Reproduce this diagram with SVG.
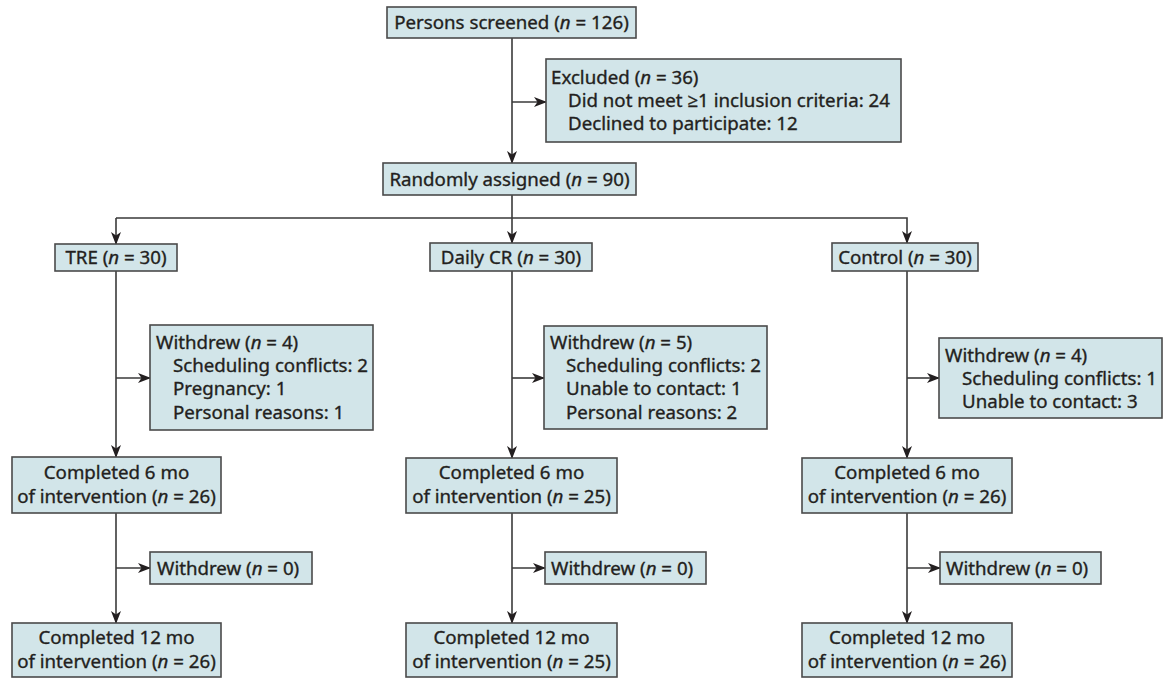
<svg xmlns="http://www.w3.org/2000/svg" width="1165" height="679" viewBox="0 0 1165 679">
<style>
.box{fill:#d2e5e9;stroke:#4a4a4a;stroke-width:1.6}
text{font-family:"Noto Sans","Open Sans","DejaVu Sans",sans-serif;font-size:18.7px;fill:#231f20;stroke:#231f20;stroke-width:0.35}
.c{text-anchor:middle}
.i{font-style:italic}
.ln{fill:none;stroke:#3a3a3a;stroke-width:1.6}
</style>
<defs>
<marker id="ah" markerWidth="13" markerHeight="13" viewBox="0 0 13 12" refX="12" refY="6" orient="auto" markerUnits="userSpaceOnUse">
<path d="M0,1 L13,6 L0,11 L3.5,6 z" fill="#231f20"/>
</marker>
</defs>
<g id="connectors" class="ln">
<path d="M512,38 V163" marker-end="url(#ah)"/>
<path d="M512,102 H546" marker-end="url(#ah)"/>
<path d="M512,195 V243" marker-end="url(#ah)"/>
<path d="M116,218 H907 V243" marker-end="url(#ah)"/>
<path d="M116,218 V244" marker-end="url(#ah)"/>
<path d="M116,271 V457" marker-end="url(#ah)"/>
<path d="M116,378 H150" marker-end="url(#ah)"/>
<path d="M512,271 V458" marker-end="url(#ah)"/>
<path d="M512,378 H544" marker-end="url(#ah)"/>
<path d="M907,271 V458" marker-end="url(#ah)"/>
<path d="M907,378 H939" marker-end="url(#ah)"/>
<path d="M116,513 V623" marker-end="url(#ah)"/>
<path d="M116,568 H150" marker-end="url(#ah)"/>
<path d="M512,513 V623" marker-end="url(#ah)"/>
<path d="M512,568 H545" marker-end="url(#ah)"/>
<path d="M907,513 V623" marker-end="url(#ah)"/>
<path d="M907,568 H940" marker-end="url(#ah)"/>
</g>
<g id="screened"><rect class="box" x="387" y="7" width="249" height="31"/>
<text class="c" x="511.5" y="29">Persons screened (<tspan class="i">n</tspan> = 126)</text></g>
<g id="excluded"><rect class="box" x="546" y="59" width="355" height="83"/>
<text x="551" y="84">Excluded (<tspan class="i">n</tspan> = 36)</text>
<text x="568" y="107">Did not meet ≥1 inclusion criteria: 24</text>
<text x="568" y="130">Declined to participate: 12</text></g>
<g id="randomly"><rect class="box" x="383" y="163" width="253" height="32"/>
<text class="c" x="509.5" y="186">Randomly assigned (<tspan class="i">n</tspan> = 90)</text></g>
<g id="tre"><rect class="box" x="55" y="244" width="122" height="27"/>
<text class="c" x="116" y="264">TRE (<tspan class="i">n</tspan> = 30)</text></g>
<g id="dailycr"><rect class="box" x="430" y="243" width="162" height="28"/>
<text class="c" x="511" y="264">Daily CR (<tspan class="i">n</tspan> = 30)</text></g>
<g id="control"><rect class="box" x="832" y="243" width="146" height="28"/>
<text class="c" x="905" y="264">Control (<tspan class="i">n</tspan> = 30)</text></g>
<g id="tre-withdrew"><rect class="box" x="150" y="325" width="223" height="105"/>
<text x="156" y="349">Withdrew (<tspan class="i">n</tspan> = 4)</text>
<text x="173" y="372">Scheduling conflicts: 2</text>
<text x="173" y="395">Pregnancy: 1</text>
<text x="173" y="419">Personal reasons: 1</text></g>
<g id="cr-withdrew"><rect class="box" x="544" y="326" width="223" height="103"/>
<text x="550" y="349">Withdrew (<tspan class="i">n</tspan> = 5)</text>
<text x="566" y="372">Scheduling conflicts: 2</text>
<text x="566" y="395">Unable to contact: 1</text>
<text x="566" y="419">Personal reasons: 2</text></g>
<g id="control-withdrew"><rect class="box" x="939" y="338" width="223" height="80"/>
<text x="945" y="362">Withdrew (<tspan class="i">n</tspan> = 4)</text>
<text x="962" y="385">Scheduling conflicts: 1</text>
<text x="962" y="408">Unable to contact: 3</text></g>
<g id="tre-6mo"><rect class="box" x="12" y="457" width="209" height="56"/>
<text class="c" x="116.5" y="479">Completed 6 mo</text>
<text class="c" x="116.5" y="503">of intervention (<tspan class="i">n</tspan> = 26)</text></g>
<g id="cr-6mo"><rect class="box" x="406" y="458" width="211" height="55"/>
<text class="c" x="511.5" y="479">Completed 6 mo</text>
<text class="c" x="511.5" y="503">of intervention (<tspan class="i">n</tspan> = 25)</text></g>
<g id="control-6mo"><rect class="box" x="802" y="458" width="210" height="55"/>
<text class="c" x="907" y="479">Completed 6 mo</text>
<text class="c" x="907" y="503">of intervention (<tspan class="i">n</tspan> = 26)</text></g>
<g id="tre-w0"><rect class="box" x="150" y="552" width="162" height="32"/>
<text x="157" y="575">Withdrew (<tspan class="i">n</tspan> = 0)</text></g>
<g id="cr-w0"><rect class="box" x="545" y="552" width="161" height="32"/>
<text x="551" y="575">Withdrew (<tspan class="i">n</tspan> = 0)</text></g>
<g id="control-w0"><rect class="box" x="940" y="552" width="161" height="32"/>
<text x="946" y="575">Withdrew (<tspan class="i">n</tspan> = 0)</text></g>
<g id="tre-12mo"><rect class="box" x="12" y="623" width="209" height="54"/>
<text class="c" x="116.5" y="644">Completed 12 mo</text>
<text class="c" x="116.5" y="668">of intervention (<tspan class="i">n</tspan> = 26)</text></g>
<g id="cr-12mo"><rect class="box" x="406" y="623" width="211" height="54"/>
<text class="c" x="511.5" y="644">Completed 12 mo</text>
<text class="c" x="511.5" y="668">of intervention (<tspan class="i">n</tspan> = 25)</text></g>
<g id="control-12mo"><rect class="box" x="802" y="623" width="210" height="54"/>
<text class="c" x="907" y="644">Completed 12 mo</text>
<text class="c" x="907" y="668">of intervention (<tspan class="i">n</tspan> = 26)</text></g>
</svg>
